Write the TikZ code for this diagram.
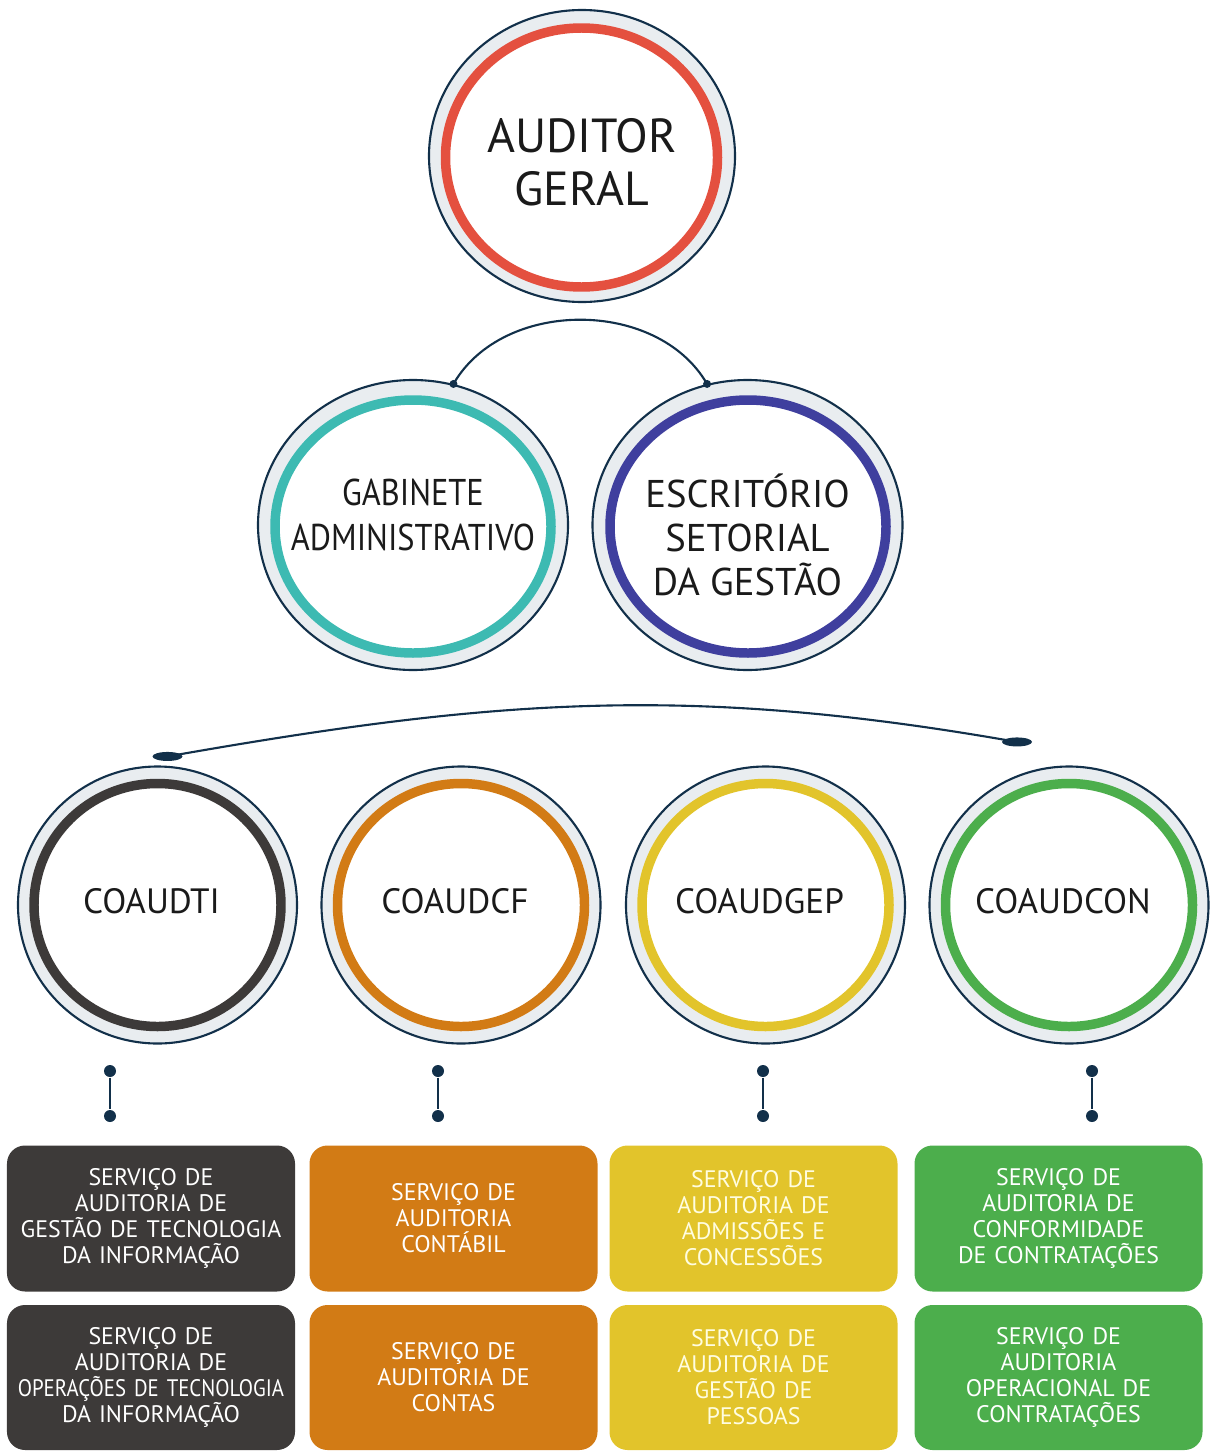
\documentclass[tikz,border=0pt]{standalone}
\usepackage{fontspec}
\setmainfont{PT Sans}
\newfontfamily\narrowfont{PT Sans}[FakeStretch=0.87]
\usepackage{tikz}
\usetikzlibrary{shapes.geometric, positioning, calc}

\definecolor{navy}{HTML}{12304A}
\definecolor{ink}{HTML}{1A1A1A}
\definecolor{bandgray}{HTML}{E9EDF0}
\definecolor{agred}{HTML}{E4503F}
\definecolor{gabteal}{HTML}{3DBAB2}
\definecolor{escblue}{HTML}{3F3F9E}
\definecolor{tidark}{HTML}{3D3A39}
\definecolor{cforange}{HTML}{D27B15}
\definecolor{gepyellow}{HTML}{E2C42B}
\definecolor{congreen}{HTML}{4CAE4C}

\begin{document}
\begin{tikzpicture}[
    unit/.style={ellipse, draw=navy, line width=0.6pt, inner sep=0pt},
    txt/.style={align=center, text=ink, inner sep=0pt},
    band/.style={fill=bandgray},
    ring/.style={draw=#1, line width=2.7pt, fill=white},
    link/.style={draw=navy, line width=0.6pt},
    dot/.style={circle, fill=navy, inner sep=0pt, minimum size=0.12cm},
    svc/.style={rounded corners=0.18cm, inner xsep=0.02cm, text width=2.84cm, minimum height=1.46cm, align=center,
        text=white, font=\fontsize{6.8}{7.4}\selectfont}
  ]
  \useasboundingbox (0,0) rectangle (12.09,-14.52);

  % auditor geral
  \fill[band] (5.82,-1.56) ellipse (1.53 and 1.46);
  \draw[ring=agred] (5.815,-1.575) ellipse (1.36 and 1.295);
  \node[unit, minimum width=3.06cm, minimum height=2.92cm] (ag) at (5.82,-1.56) {};
  \node[txt, font=\fontsize{13.6}{15.1}\selectfont] (ag-txt) at ([yshift=-0.06cm]ag) {AUDITOR\\GERAL};

  % gabinete and escritorio
  \fill[band] (4.13,-5.25) ellipse (1.55 and 1.45);
  \draw[ring=gabteal] (4.13,-5.265) ellipse (1.38 and 1.265);
  \node[unit, minimum width=3.1cm, minimum height=2.9cm] (gab) at (4.13,-5.25) {};
  \node[txt, font=\narrowfont\fontsize{10.6}{12.8}\selectfont] (gab-txt) at ([yshift=0.1cm]gab) {GABINETE\\ADMINISTRATIVO};

  \fill[band] (7.475,-5.25) ellipse (1.55 and 1.45);
  \draw[ring=escblue] (7.48,-5.265) ellipse (1.38 and 1.265);
  \node[unit, minimum width=3.1cm, minimum height=2.9cm] (esc) at (7.475,-5.25) {};
  \node[txt, font=\fontsize{11}{12.5}\selectfont] (esc-txt) at ([yshift=-0.1cm]esc) {ESCRITÓRIO\\SETORIAL\\DA GESTÃO};

  \draw[link] (gab.74) to[out=60, in=120] (esc.106);
  \fill[navy] (gab.74) circle (0.04);
  \fill[navy] (esc.106) circle (0.04);

  % coordenacoes
  \foreach \nm/\x/\col/\txt in {ti/1.575/tidark/COAUDTI, cf/4.61/cforange/COAUDCF,
      gep/7.655/gepyellow/COAUDGEP, con/10.69/congreen/COAUDCON}{
    \fill[band] (\x,-9.05) ellipse (1.395 and 1.385);
    \draw[ring=\col] (\x,-9.05) ellipse (1.235 and 1.215);
    \node[unit, minimum width=2.79cm, minimum height=2.77cm] (\nm) at (\x,-9.05) {};
    \node[txt, font=\fontsize{10}{12}\selectfont] (\nm-txt) at ([xshift=-0.06cm, yshift=0.04cm]\nm) {\txt};
  }

  \coordinate (arcl) at ([shift={(0.1,0.09)}]ti.north);
  \coordinate (arcr) at ([shift={(-0.52,0.235)}]con.north);
  \draw[link] (arcl) to[out=10, in=170] (arcr);
  \fill[navy] (arcl) ellipse (0.15 and 0.045);
  \fill[navy] (arcr) ellipse (0.15 and 0.045);

  % servicos
  \foreach \nm/\dx/\x/\col/\tc/\ta/\tb in {
      ti/1.10/1.51/tidark/white/{SERVIÇO DE\\AUDITORIA DE\\GESTÃO DE TECNOLOGIA\\DA INFORMAÇÃO}/{SERVIÇO DE\\AUDITORIA DE\\{\narrowfont OPERAÇÕES DE TECNOLOGIA}\\DA INFORMAÇÃO},
      cf/4.38/4.535/cforange/white/{SERVIÇO DE\\AUDITORIA\\CONTÁBIL}/{SERVIÇO DE\\AUDITORIA DE\\CONTAS},
      gep/7.63/7.535/gepyellow/white!88!yellow/{SERVIÇO DE\\AUDITORIA DE\\ADMISSÕES E\\CONCESSÕES}/{SERVIÇO DE\\AUDITORIA DE\\GESTÃO DE\\PESSOAS},
      con/10.92/10.585/congreen/white/{SERVIÇO DE\\AUDITORIA DE\\CONFORMIDADE\\DE CONTRATAÇÕES}/{SERVIÇO DE\\AUDITORIA\\OPERACIONAL DE\\CONTRATAÇÕES}}{
    \node[dot] (\nm-t) at (\dx,-10.71) {};
    \node[dot] (\nm-b) at (\dx,-11.16) {};
    \draw[link] (\nm-t) -- (\nm-b);
    \node[svc, fill=\col, text=\tc] (\nm-a) at (\x,-12.185) {\ta};
    \node[svc, fill=\col, text=\tc, minimum height=1.45cm] (\nm-s) at (\x,-13.775) {\tb};
  }
\end{tikzpicture}
\end{document}
